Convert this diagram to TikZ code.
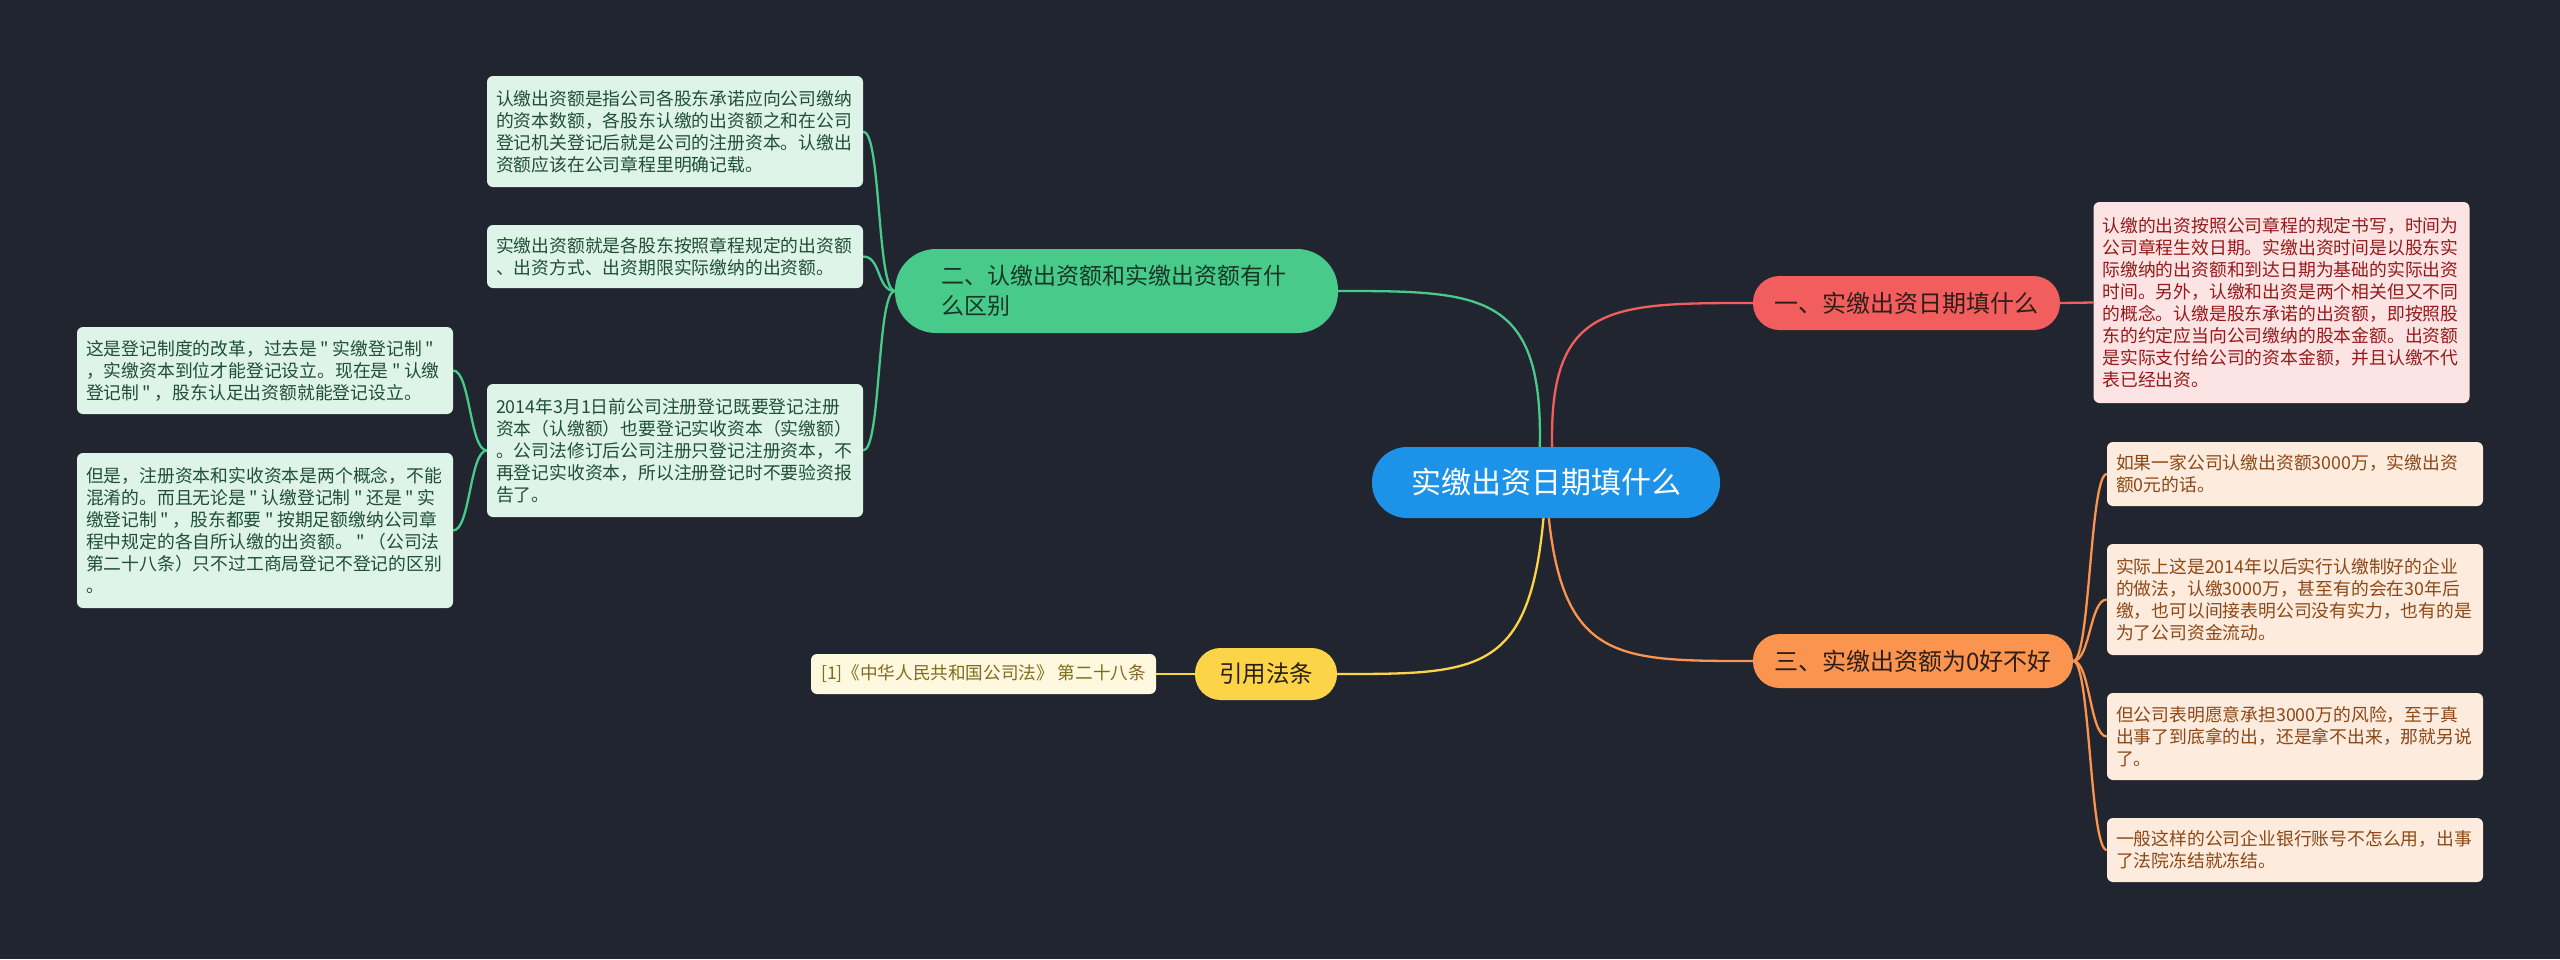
\documentclass[tikz,border=0pt]{standalone}
\usepackage{fontspec}
\setmainfont{Noto Sans CJK SC}[Ligatures=TeXOff]
\usetikzlibrary{backgrounds,calc}
\newcommand\qm{\kern0.2em"\kern0.2em}
\definecolor{bg}{RGB}{33,37,47}
\definecolor{cblue}{RGB}{28,146,232}
\definecolor{cred}{RGB}{242,94,94}
\definecolor{cgreen}{RGB}{72,202,138}
\definecolor{corange}{RGB}{250,148,78}
\definecolor{cyellow}{RGB}{252,212,72}
\definecolor{fpink}{RGB}{253,228,228}
\definecolor{tpink}{RGB}{150,25,25}
\definecolor{fgreen}{RGB}{222,244,232}
\definecolor{tgreen}{RGB}{32,78,54}
\definecolor{forange}{RGB}{253,235,222}
\definecolor{torange}{RGB}{140,72,22}
\definecolor{fyellow}{RGB}{253,248,222}
\definecolor{tyellow}{RGB}{128,108,28}
\definecolor{tdark}{RGB}{45,30,25}
\begin{document}
\begin{tikzpicture}[x=1pt,y=-1pt,
  pill/.style={inner sep=0pt, align=center},
  leafbox/.style={rounded corners=6pt, inner xsep=9pt, inner ysep=0pt,
    text width=358pt, align=left, font=\fontsize{17.8}{22}\selectfont},
  conn/.style={line width=2.3pt}
]
\useasboundingbox (0,0) rectangle (2560,959);

% root
\node[pill, fill=cblue, text=white, minimum width=348pt, minimum height=71pt,
  rounded corners=35pt, font=\fontsize{30}{34}\selectfont] (root) at (1546,482.5) {实缴出资日期填什么};

% branches
\node[pill, fill=cred, text=tdark, minimum width=307pt, minimum height=54pt,
  rounded corners=26.5pt, font=\fontsize{24}{28}\selectfont] (b1) at (1906.5,303) {一、实缴出资日期填什么};
\node[pill, fill=cgreen, text=tgreen!70!black, minimum width=443pt, minimum height=84pt,
  rounded corners=41pt, align=left, text width=350pt, font=\fontsize{23}{30}\selectfont] (b2) at (1116.5,291) {二、认缴出资额和实缴出资额有什\\么区别};
\node[pill, fill=corange, text=tdark, minimum width=320pt, minimum height=54pt,
  rounded corners=26.5pt, font=\fontsize{24}{28}\selectfont] (b3) at (1913,661) {三、实缴出资额为0好不好};
\node[pill, fill=cyellow, text=tdark, minimum width=142pt, minimum height=52pt,
  rounded corners=25.5pt, font=\fontsize{23.5}{28}\selectfont] (b4) at (1266,674) {引用法条};

% pink leaf
\node[leafbox, fill=fpink, text=tpink, minimum height=201pt] (p1) at (2281.5,302.5) {认缴的出资按照公司章程的规定书写，时间为\\公司章程生效日期。实缴出资时间是以股东实\\际缴纳的出资额和到达日期为基础的实际出资\\时间。另外，认缴和出资是两个相关但又不同\\的概念。认缴是股东承诺的出资额，即按照股\\东的约定应当向公司缴纳的股本金额。出资额\\是实际支付给公司的资本金额，并且认缴不代\\表已经出资。};

% green leaves
\node[leafbox, fill=fgreen, text=tgreen, minimum height=111pt] (g1) at (675,131.5) {认缴出资额是指公司各股东承诺应向公司缴纳\\的资本数额，各股东认缴的出资额之和在公司\\登记机关登记后就是公司的注册资本。认缴出\\资额应该在公司章程里明确记载。};
\node[leafbox, fill=fgreen, text=tgreen, minimum height=63pt] (g2) at (675,256.5) {实缴出资额就是各股东按照章程规定的出资额\\、出资方式、出资期限实际缴纳的出资额。};
\node[leafbox, fill=fgreen, text=tgreen, minimum height=133pt] (g3) at (675,450.5) {2014年3月1日前公司注册登记既要登记注册\\资本（认缴额）也要登记实收资本（实缴额）\\。公司法修订后公司注册只登记注册资本，不\\再登记实收资本，所以注册登记时不要验资报\\告了。};
\node[leafbox, fill=fgreen, text=tgreen, minimum height=87pt] (g4) at (265,370.5) {这是登记制度的改革，过去是\qm 实缴登记制\qm\\，实缴资本到位才能登记设立。现在是\qm 认缴\\登记制\qm ，股东认足出资额就能登记设立。};
\node[leafbox, fill=fgreen, text=tgreen, minimum height=155pt] (g5) at (265,530.5) {但是，注册资本和实收资本是两个概念，不能\\混淆的。而且无论是\qm 认缴登记制\qm 还是\qm 实\\缴登记制\qm ，股东都要\qm 按期足额缴纳公司章\\程中规定的各自所认缴的出资额。\qm （公司法\\第二十八条）只不过工商局登记不登记的区别\\。};

% orange leaves
\node[leafbox, fill=forange, text=torange, minimum height=64pt] (o1) at (2295,474) {如果一家公司认缴出资额3000万，实缴出资\\额0元的话。};
\node[leafbox, fill=forange, text=torange, minimum height=111pt] (o2) at (2295,599.5) {实际上这是2014年以后实行认缴制好的企业\\的做法，认缴3000万，甚至有的会在30年后\\缴，也可以间接表明公司没有实力，也有的是\\为了公司资金流动。};
\node[leafbox, fill=forange, text=torange, minimum height=87pt] (o3) at (2295,736.5) {但公司表明愿意承担3000万的风险，至于真\\出事了到底拿的出，还是拿不出来，那就另说\\了。};
\node[leafbox, fill=forange, text=torange, minimum height=64pt] (o4) at (2295,850) {一般这样的公司企业银行账号不怎么用，出事\\了法院冻结就冻结。};

% yellow leaf
\node[fill=fyellow, text=tyellow, rounded corners=6pt, inner sep=0pt,
  minimum width=345pt, minimum height=40pt, font=\fontsize{17.6}{20}\selectfont] (y1) at (983.5,674) {[1]《中华人民共和国公司法》 第二十八条};

\begin{scope}[on background layer]
\fill[bg] (0,0) rectangle (2560,959);
% root connectors
\draw[conn, cred] ($(root.center)+(8,0)$) .. controls +(-14,-179) and +(-153,0) .. (b1.west);
\draw[conn, cgreen] ($(root.center)+(-8,0)$) .. controls +(14,-191) and +(152,0) .. (b2.east);
\draw[conn, corange] (root.center) .. controls +(10,179) and +(-143,0) .. (b3.west);
\draw[conn, cyellow] (root.center) .. controls +(-10,192) and +(150,0) .. (b4.east);
% branch 1
\draw[conn, cred] (b1.east) -- (p1.west);
% branch 2
\foreach \g in {g1,g2,g3}
  \draw[conn, cgreen] (b2.west) .. controls +(-18,0) and +(18,0) .. (\g.east);
\foreach \g in {g4,g5}
  \draw[conn, cgreen] (g3.west) .. controls +(-17,0) and +(17,0) .. (\g.east);
% branch 3
\foreach \o in {o1,o2,o3,o4}
  \draw[conn, corange] (b3.east) .. controls +(17,0) and +(-17,0) .. (\o.west);
% branch 4
\draw[conn, cyellow] (b4.west) -- (y1.east);
\end{scope}
\end{tikzpicture}
\end{document}
